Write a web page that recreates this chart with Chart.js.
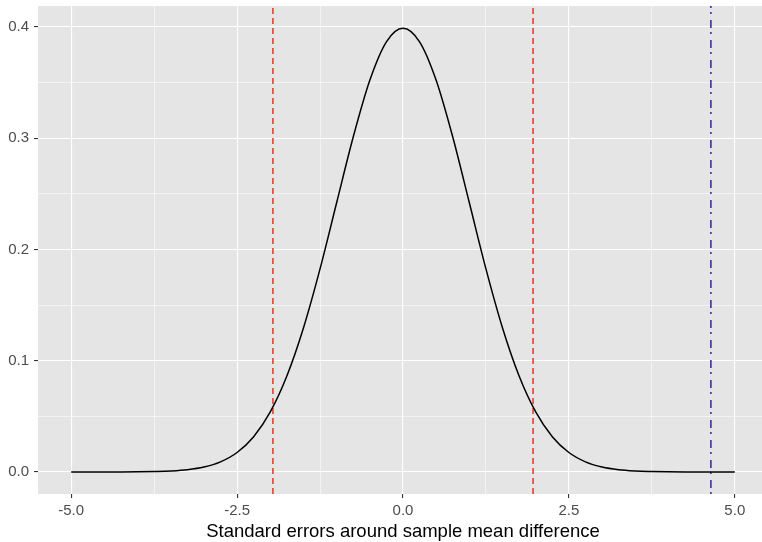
<!DOCTYPE html>
<html>
<head>
<meta charset="utf-8">
<script src="https://cdn.jsdelivr.net/npm/chart.js@4/dist/chart.umd.min.js"></script>
<style>
  html, body { margin: 0; padding: 0; background: #fff; }
  #wrap { width: 762px; height: 542px; }
</style>
</head>
<body>
<div id="wrap"><canvas id="chart" width="762" height="542"></canvas></div>
<script>
// density curve, standard errors vs density
const seX = [-5, -4.75, -4.5, -4.25, -4, -3.75, -3.5, -3.25, -3, -2.75, -2.5, -2.25, -2, -1.75, -1.5, -1.25, -1, -0.75, -0.5, -0.25,
             0, 0.25, 0.5, 0.75, 1, 1.25, 1.5, 1.75, 2, 2.25, 2.5, 2.75, 3, 3.25, 3.5, 3.75, 4, 4.25, 4.5, 4.75, 5];
const density = [0.0000, 0.0000, 0.0000, 0.0000, 0.0001, 0.0004, 0.0009, 0.0020, 0.0044, 0.0091, 0.0175, 0.0317, 0.0540, 0.0863, 0.1295, 0.1826, 0.2420, 0.3011, 0.3521, 0.3867,
                 0.3989, 0.3867, 0.3521, 0.3011, 0.2420, 0.1826, 0.1295, 0.0863, 0.0540, 0.0317, 0.0175, 0.0091, 0.0044, 0.0020, 0.0009, 0.0004, 0.0001, 0.0000, 0.0000, 0.0000, 0.0000];

// critical values and observed statistic
const criticalX = [-1.96, 1.96];
const observedX = 4.64;

// axis ticks
const xMajor = [-5, -2.5, 0, 2.5, 5];
const xMinor = [-3.75, -1.25, 1.25, 3.75];
const yMajor = [0, 0.1, 0.2, 0.3, 0.4];
const yMinor = [0.05, 0.15, 0.25, 0.35];
const xTitle = 'Standard errors around sample mean difference';

const X_MIN = -5.5, X_MAX = 5.41;
const Y_MIN = -0.0198, Y_MAX = 0.4189;

const FONT = '"Liberation Sans", Arial, sans-serif';

const isMajor = (list, v) => list.some(m => Math.abs(m - v) < 1e-9);

const vline = (x, color, dash) => ({
  data: [{ x: x, y: Y_MIN }, { x: x, y: Y_MAX }],
  borderColor: color,
  borderWidth: 1.5,
  borderDash: dash,
  pointRadius: 0,
  fill: false
});

// no extra room for edge labels, the panel fills the canvas
const noEdgePadding = s => {
  s.paddingTop = 0; s.paddingBottom = 0;
  s.paddingLeft = 0; s.paddingRight = 0;
};

// grey panel behind the plot
const panelBg = {
  id: 'panelBg',
  beforeDraw(chart) {
    const { ctx, chartArea: a } = chart;
    ctx.save();
    ctx.fillStyle = '#e5e5e5';
    ctx.fillRect(a.left, a.top, a.right - a.left, a.bottom - a.top);
    ctx.restore();
  }
};

// x axis title centred under the panel
const axisTitle = {
  id: 'axisTitle',
  afterDraw(chart) {
    const ctx = chart.ctx;
    ctx.save();
    ctx.font = '18.5px ' + FONT;
    ctx.fillStyle = '#000';
    ctx.textAlign = 'center';
    ctx.textBaseline = 'alphabetic';
    ctx.fillText(xTitle, chart.scales.x.getPixelForValue(0), 537);
    ctx.restore();
  }
};

new Chart(document.getElementById('chart'), {
  type: 'line',
  data: {
    datasets: [
      {
        data: seX.map((x, i) => ({ x: x, y: density[i] })),
        borderColor: '#000',
        borderWidth: 1.5,
        pointRadius: 0,
        cubicInterpolationMode: 'monotone',
        fill: false
      },
      vline(criticalX[0], '#e8351f', [6, 4]),
      vline(criticalX[1], '#e8351f', [6, 4]),
      vline(observedX, '#3322a0', [2, 4, 8, 6])
    ]
  },
  options: {
    responsive: false,
    animation: false,
    layout: { padding: { top: 6, right: 0, left: 0, bottom: 0 } },
    plugins: { legend: { display: false }, tooltip: { enabled: false } },
    scales: {
      x: {
        type: 'linear',
        min: X_MIN,
        max: X_MAX,
        afterBuildTicks: s => { s.ticks = [...xMajor, ...xMinor].sort((a, b) => a - b).map(v => ({ value: v })); },
        afterFit: s => { s.height = 48; noEdgePadding(s); },
        border: { display: false },
        grid: {
          color: '#fff',
          lineWidth: c => isMajor(xMajor, c.tick.value) ? 1.1 : 0.55,
          tickColor: c => isMajor(xMajor, c.tick.value) ? '#333' : 'rgba(0,0,0,0)',
          tickLength: 4
        },
        ticks: {
          autoSkip: false,
          maxRotation: 0,
          padding: 4,
          color: '#4d4d4d',
          font: { family: FONT, size: 15 },
          callback: v => isMajor(xMajor, v) ? v.toFixed(1) : ''
        }
      },
      y: {
        type: 'linear',
        min: Y_MIN,
        max: Y_MAX,
        afterBuildTicks: s => { s.ticks = [...yMajor, ...yMinor].sort((a, b) => a - b).map(v => ({ value: v })); },
        afterFit: s => { s.width = 38; noEdgePadding(s); },
        border: { display: false },
        grid: {
          color: '#fff',
          lineWidth: c => isMajor(yMajor, c.tick.value) ? 1.1 : 0.55,
          tickColor: c => isMajor(yMajor, c.tick.value) ? '#333' : 'rgba(0,0,0,0)',
          tickLength: 4
        },
        ticks: {
          autoSkip: false,
          padding: 5,
          color: '#4d4d4d',
          font: { family: FONT, size: 15 },
          callback: v => isMajor(yMajor, v) ? v.toFixed(1) : ''
        }
      }
    }
  },
  plugins: [panelBg, axisTitle]
});
</script>
</body>
</html>
